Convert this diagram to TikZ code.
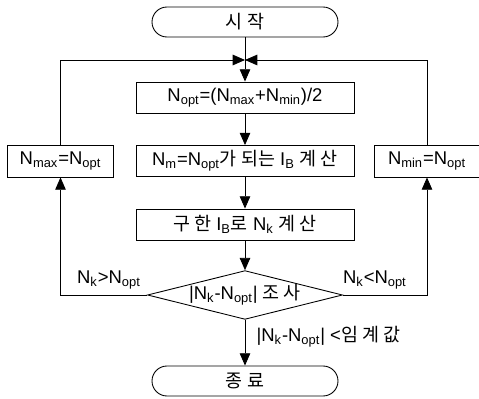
\documentclass[tikz,border=0pt]{standalone}
\usepackage{fontspec}
\setmainfont{Liberation Sans}
\newfontfamily\kr{Noto Sans CJK KR}
\usetikzlibrary{positioning,shapes.geometric,arrows.meta}
\newcommand\lo[1]{\textsubscript{#1}}

\begin{document}
\begin{tikzpicture}[->, >={Triangle[length=7pt,width=6pt]}, node distance=1.27cm,
    line width=0.5pt,
    proc node/.style={rectangle, draw, minimum width=4.36cm, minimum height=0.62cm, inner sep=1pt},
    term node/.style={rectangle, draw, rounded corners=0.3cm, minimum width=3.72cm, minimum height=0.6cm},
    side node/.style={rectangle, draw, minimum width=2.12cm, minimum height=0.64cm, inner sep=1pt},
    dec node/.style={diamond, draw, aspect=4, minimum width=3.68cm, minimum height=0.92cm, inner sep=0pt}]
            \tikzstyle{every node}=[font=\fontsize{10.5}{12}\selectfont]
            \useasboundingbox (0,0) rectangle (9.58,-7.98);

              \node[term node] (start) at (4.9,-0.44) {\kr 시 작};
              \coordinate[below of=start, node distance=0.76cm] (junc);
              \node[proc node] (calc) [below of=junc, node distance=0.75cm] {N\lo{opt}=(N\lo{max}+N\lo{min})/2};
              \node[proc node] (ib) [below of=calc] {N\lo{m}=N\lo{opt}{\kr 가 되는} I\lo{B} {\kr 계 산}};
              \node[proc node] (nk) [below of=ib] {{\kr 구 한} I\lo{B}{\kr 로} N\lo{k} {\kr 계 산}};
              \node[dec node] (check) [below of=nk, node distance=1.41cm] {|N\lo{k}-N\lo{opt}| {\kr 조 사}};
              \node[term node] (stop) [below of=check, node distance=1.72cm] {\kr 종 료};
              \node[side node] (nmax) [left of=ib, node distance=3.69cm] {N\lo{max}=N\lo{opt}};
              \node[side node] (nmin) [right of=ib, node distance=3.64cm] {N\lo{min}=N\lo{opt}};

              \draw[-] (start) -- (junc);
              \path (junc) edge (calc)
                    (calc) edge (ib)
                    (ib) edge (nk)
                    (nk) edge (check)
                    (check) edge node [right, xshift=3pt, pos=0.36] {|N\lo{k}-N\lo{opt}| <{\kr 임 계 값}} (stop);
              \draw (check.west) -| node [above, pos=0.22] {N\lo{k}>N\lo{opt}} (nmax);
              \draw (check.east) -| node [above, pos=0.19] {N\lo{k}<N\lo{opt}} (nmin);
              \draw (nmax) |- (junc);
              \draw (nmin) |- (junc);

\end{tikzpicture}
\end{document}
